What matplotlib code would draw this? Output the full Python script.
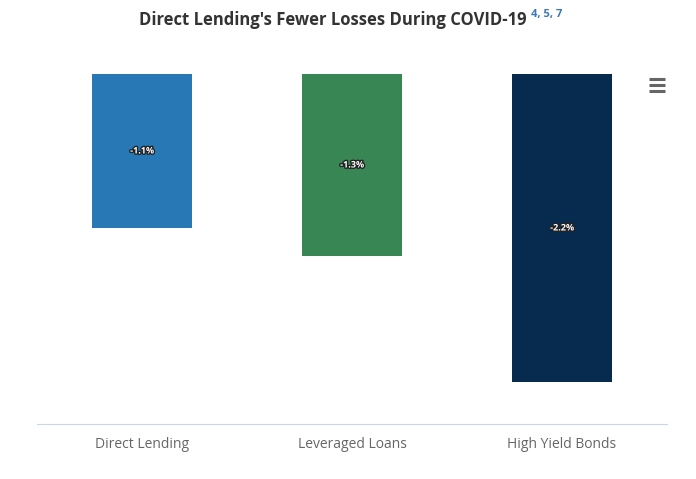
import matplotlib
matplotlib.use('Agg')
import matplotlib.pyplot as plt
import matplotlib.patheffects as pe
from matplotlib.lines import Line2D

categories = ['Direct Lending', 'Leveraged Loans', 'High Yield Bonds']
losses = [-1.1, -1.3, -2.2]
colors = ['#2778b5', '#378653', '#072a4f']

plt.rcParams['font.family'] = ['Open Sans', 'DejaVu Sans']

fig = plt.figure(figsize=(6.96, 4.79), dpi=100)
ax = fig.add_axes([37 / 696, 1 - 424 / 479, 630 / 696, 350 / 479])

x = range(len(categories))
bars = ax.bar(x, losses, width=0.476, color=colors)

for b, v in zip(bars, losses):
    ax.text(b.get_x() + b.get_width() / 2, v / 2, f'{v:.1f}%',
            ha='center', va='center', fontsize=6.5, fontweight='bold',
            color='white',
            path_effects=[pe.withStroke(linewidth=2, foreground='#222222')])

ax.set_xlim(-0.5, len(categories) - 0.5)
ax.set_ylim(-2.5, 0)
ax.set_xticks(list(x))
ax.set_xticklabels(categories, fontsize=10, color='#666666')
ax.tick_params(axis='x', length=0, pad=9)
ax.set_yticks([])
for s in ['top', 'left', 'right']:
    ax.spines[s].set_visible(False)
ax.spines['bottom'].set_color('#ccd6eb')

# title + superscript footnote refs
fig.text(527 / 696, 1 - 20 / 479, "Direct Lending's Fewer Losses During COVID-19",
         ha='right', va='center', fontsize=12, fontweight='bold', color='#333333')
fig.text(531 / 696, 1 - 14 / 479, '4, 5, 7', ha='left', va='center',
         fontsize=8, fontweight='bold', color='#3a78b8')

# menu icon
for yy in [79, 85, 91]:
    fig.add_artist(Line2D([649 / 696, 665 / 696], [1 - yy / 479] * 2,
                          color='#666666', linewidth=2.2,
                          solid_capstyle='butt'))

fig.savefig('out.png', dpi=100)
